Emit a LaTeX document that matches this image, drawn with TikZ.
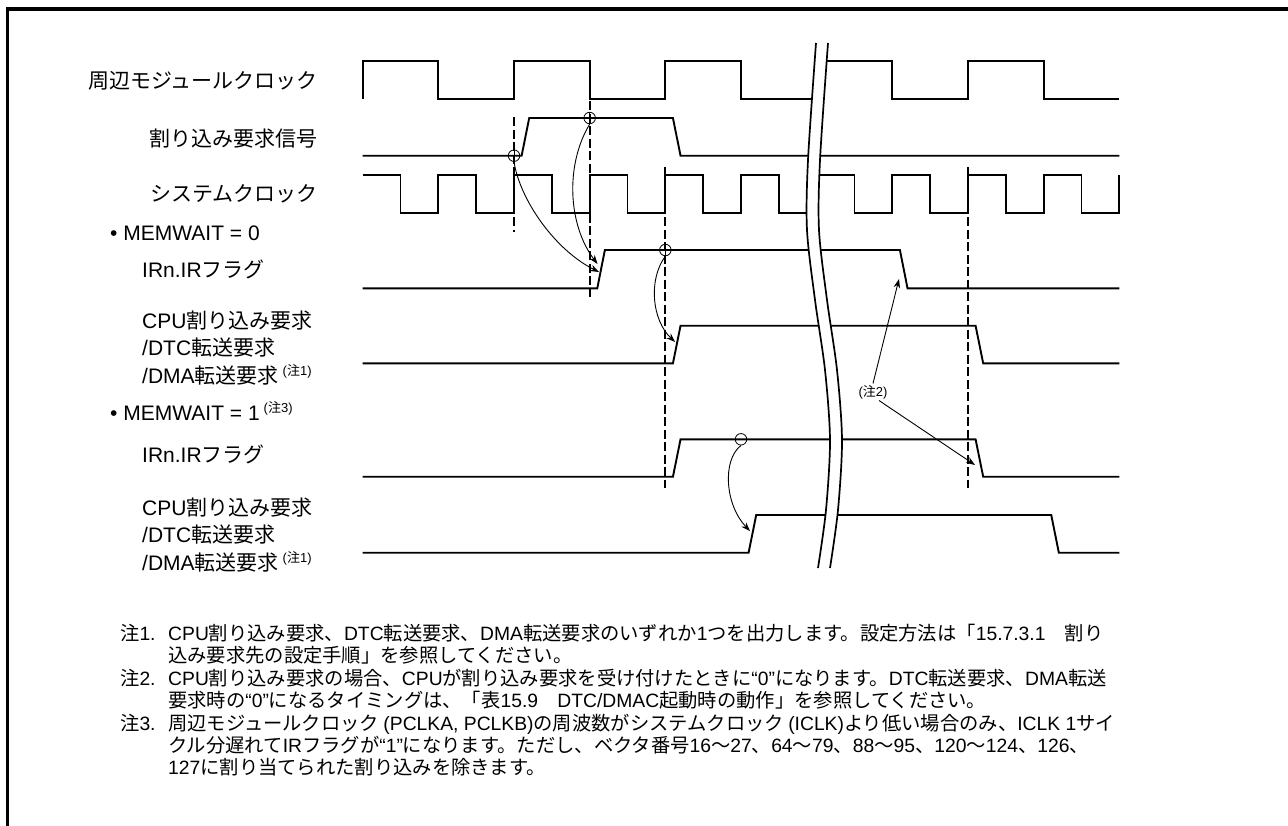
\documentclass[tikz,border=0pt]{standalone}
\usepackage{fontspec}
\setmainfont{Liberation Sans}
\newfontfamily\lat{Liberation Sans}
\newfontfamily\jp{Noto Sans CJK JP}
\usetikzlibrary{arrows.meta}

% японские знаки -- шрифтом Noto, латиница -- Liberation Sans
\chardef\jpclass=7
\newcommand\setjpclass[2]{%
  \count255=#1
  \loop \XeTeXcharclass\count255=\jpclass
    \ifnum\count255<#2 \advance\count255 by 1 \repeat}
\setjpclass{"3000}{"30FF}
\setjpclass{"4E00}{"9FFF}
\setjpclass{"FF00}{"FFEF}
\XeTeXinterchartoks 0 \jpclass = {\jp}
\XeTeXinterchartoks 4095 \jpclass = {\jp}
\XeTeXinterchartoks \jpclass 0 = {\lat}
\XeTeXinterchartoks 4095 0 = {\lat}
\XeTeXinterchartokenstate=1

% сноска (注n)
\newcommand\chu[1]{\hspace{4pt}\raisebox{8pt}{\fontsize{13}{13}\selectfont(注#1)}}

% импульс: низ, верх, номер фронта вверх, номер фронта вниз
\newcommand\sigpulse[4]{%
  \draw[wave] (\xO,#1) -- ({\xO+#3*\hp+\dl},#1) -- ({\xO+#3*\hp+\dl+\tr},#2)
    -- ({\xO+#4*\hp+\dl},#2) -- ({\xO+#4*\hp+\dl+\tr},#1) -- (\xE,#1);}

\tikzset{
  wave/.style={line width=1.9pt, line join=miter},
  guide/.style={line width=2pt, dash pattern=on 9pt off 3.5pt},
  cause/.style={line width=0.9pt, -{Stealth[length=9pt,width=6.5pt]}},
  hitmark/.style={circle, draw, line width=0.8pt, minimum size=11.5pt, inner sep=0pt},
  hitplus/.style={hitmark, path picture={\draw[line width=0.8pt]
    (path picture bounding box.north) -- (path picture bounding box.south)
    (path picture bounding box.west) -- (path picture bounding box.east);}},
  sig/.style={font=\fontsize{21}{27.5}\selectfont, inner sep=0pt, align=left},
  memo/.style={font=\fontsize{19.3}{22.4}\selectfont, inner sep=0pt, anchor=base west},
}

\begin{document}
\begin{tikzpicture}[x=1pt, y=-1pt]
    % параметры
    \def\xO{362.7}  % начало диаграмм
    \def\xE{1119.3} % конец диаграмм
    \def\hp{37.83}  % полупериод системной клоки
    \def\dl{7.6}    % задержка фронта
    \def\tr{7.6}    % длительность фронта

    \useasboundingbox (0,0) rectangle (1288,825);

    % рамка
    \draw[line width=3.3pt] (7.3,830) -- (7.3,9) -- (1295,9);

    % тактовые сигналы
    \draw[wave] (\xO,99) -- (\xO,61)
        \foreach \k in {2,4,...,18} { -| ({\xO+\k*\hp},{mod(\k,4)==2 ? 99 : 61}) }
        -- (\xE,99);
    \draw[wave] (\xO,174.7)
        \foreach \k in {1,...,20} { -| ({\xO+\k*\hp},{isodd(\k) ? 212.7 : 174.7}) };

    % запрос и флаги
    \sigpulse{155.7}{118}{4}{8}
    \sigpulse{288.3}{250}{6}{14}
    \sigpulse{363.3}{325.7}{8}{16}
    \sigpulse{476.7}{439.3}{8}{16}
    \sigpulse{552.7}{515}{10}{18}

    % разрыв оси времени
    \foreach \dx/\clr/\lw in {0pt/white/11pt, -6pt/black/1.7pt, 6pt/black/1.7pt}
        \draw[xshift=\dx, draw=\clr, line width=\lw] plot[smooth] coordinates
            {(822,43) (814,160) (813,230) (821,300) (831,370) (836,440) (832,510) (824,568)};

    % вспомогательные вертикали
    \draw[guide] ({\xO+4*\hp},117) -- ++(0,115);
    \draw[guide] ({\xO+6*\hp},101) -- ++(0,196);
    \draw[guide] ({\xO+8*\hp},167) -- ++(0,321);
    \draw[guide] ({\xO+16*\hp},167) -- ++(0,321);

    % точки отсчёта
    \node[hitplus] (irqmk) at ({\xO+4*\hp},155.7) {};
    \node[hitplus] (irqhimk) at ({\xO+6*\hp},118) {};
    \node[hitplus] (irfmk) at ({\xO+8*\hp},250) {};
    \node[hitmark] (irfonemk) at ({\xO+10*\hp},439.3) {};

    \coordinate (tipA) at (599,272);
    \coordinate (tipB) at (597.5,264);
    \coordinate (tipC) at (675,342);
    \coordinate (tipD) at (750,531);
    \coordinate (tipE) at (899,279);
    \coordinate (tipF) at (975,465);

    % стрелки
    \draw[cause] (irqmk.south) .. controls (520,200) and (555,250) .. (tipA);
    \draw[cause] (irqhimk.south) .. controls (565,165) and (568,225) .. (tipB);
    \draw[cause] (irfmk.south) .. controls (648,280) and (652,320) .. (tipC);
    \draw[cause] (irfonemk.south) .. controls (722,460) and (725,505) .. (tipD);
    \node[font=\fontsize{13}{13}\selectfont, inner sep=1.5pt] (chu2) at (873,392) {(注2)};
    \draw[cause] (chu2.north) -- (tipE);
    \draw[cause] ([xshift=6pt]chu2.south) -- (tipF);

    % подписи сигналов (у многострочных base -- по последней строке)
    \node[sig, anchor=base east] (pclk) at (318,88) {周辺モジュールクロック};
    \node[sig, anchor=base east] (irq) at (318,146) {割り込み要求信号};
    \node[sig, anchor=base east] (iclk) at (318,201.5) {システムクロック};
    \node[sig, anchor=base west] (mwzero) at (110,240) {• MEMWAIT = 0};
    \node[sig, anchor=base west] (irfzero) at (142,277) {IRn.IRフラグ};
    \node[sig, anchor=base west] (reqzero) at (142,383)
        {CPU割り込み要求\\/DTC転送要求\\/DMA転送要求\chu{1}};
    \node[sig, anchor=base west] (mwone) at (110,420) {• MEMWAIT = 1\chu{3}};
    \node[sig, anchor=base west] (irfone) at (142,462) {IRn.IRフラグ};
    \node[sig, anchor=base west] (reqone) at (142,570)
        {CPU割り込み要求\\/DTC転送要求\\/DMA転送要求\chu{1}};

    % примечания
    \node[memo] (tagone) at (120,640) {注1.};
    \node[memo] (tagtwo) at (120,685) {注2.};
    \node[memo] (tagthree) at (120,730) {注3.};
    \node[memo] (memoa) at (168,640) {CPU割り込み要求、DTC転送要求、DMA転送要求のいずれか1つを出力します。設定方法は「15.7.3.1　割り};
    \node[memo] (memob) at (168,662.4) {込み要求先の設定手順」を参照してください。};
    \node[memo] (memoc) at (168,685) {CPU割り込み要求の場合、CPUが割り込み要求を受け付けたときに“0”になります。DTC転送要求、DMA転送};
    \node[memo] (memod) at (168,707.4) {要求時の“0”になるタイミングは、「表15.9　DTC/DMAC起動時の動作」を参照してください。};
    \node[memo] (memoe) at (168,730) {周辺モジュールクロック (PCLKA, PCLKB)の周波数がシステムクロック (ICLK)より低い場合のみ、ICLK 1サイ};
    \node[memo] (memof) at (168,752.4) {クル分遅れてIRフラグが“1”になります。ただし、ベクタ番号16～27、64～79、88～95、120～124、126、};
    \node[memo] (memog) at (168,774.8) {127に割り当てられた割り込みを除きます。};
\end{tikzpicture}
\end{document}
